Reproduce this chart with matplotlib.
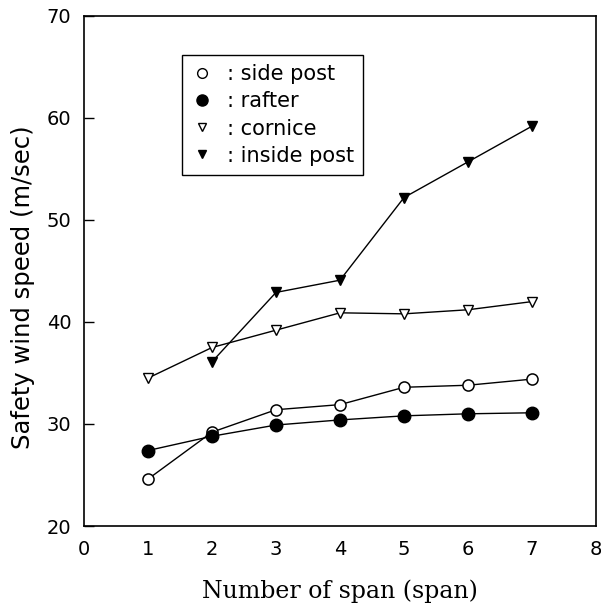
import matplotlib
matplotlib.use("Agg")
import matplotlib.pyplot as plt
from matplotlib.lines import Line2D

spans = [1, 2, 3, 4, 5, 6, 7]
side_post = [24.6, 29.2, 31.4, 31.9, 33.6, 33.8, 34.4]
rafter = [27.4, 28.8, 29.9, 30.4, 30.8, 31.0, 31.1]
cornice = [34.5, 37.5, 39.2, 40.9, 40.8, 41.2, 42.0]
inside_spans = [2, 3, 4, 5, 6, 7]
inside_post = [36.1, 42.9, 44.1, 52.2, 55.7, 59.2]

legend_labels = [": side post", ": rafter", ": cornice", ": inside post"]
xticks = [0, 1, 2, 3, 4, 5, 6, 7, 8]
yticks = [20, 30, 40, 50, 60, 70]

fig = plt.figure(figsize=(6.01, 6.07), dpi=100)
ax = fig.add_axes([84/601, 81/607, 512/601, 510/607])

lw = 1.0
ax.plot(spans, side_post, color="black", lw=lw, marker="o", ms=8,
        mfc="white", mec="black", mew=1.1)
ax.plot(spans, rafter, color="black", lw=lw, marker="o", ms=9,
        mfc="black", mec="black")
ax.plot(spans, cornice, color="black", lw=lw, marker="v", ms=7,
        mfc="white", mec="black", mew=1.0)
ax.plot(inside_spans, inside_post, color="black", lw=lw, marker="v", ms=6.5,
        mfc="black", mec="black")

ax.set_xlim(0, 8)
ax.set_ylim(20, 70)
ax.set_xticks(xticks)
ax.set_yticks(yticks)
ax.tick_params(axis="x", direction="in", length=7, width=1, pad=10, labelsize=14)
ax.tick_params(axis="y", direction="in", length=7, width=1, pad=9, labelsize=14)
for t in ax.xaxis.get_major_ticks():
    if t.get_loc() in (0, 8):
        t.tick1line.set_visible(False)
for t in ax.yaxis.get_major_ticks():
    if t.get_loc() in (20, 70):
        t.tick1line.set_visible(False)
for s in ax.spines.values():
    s.set_linewidth(1.2)

ax.set_xlabel("Number of span (span)", family="DejaVu Serif", fontsize=17)
ax.set_ylabel("Safety wind speed (m/sec)", fontsize=17.5)
ax.xaxis.set_label_coords(0.5, -0.105)
ax.yaxis.set_label_coords(-0.095, 0.468)

handles = [
    Line2D([], [], ls="none", marker="o", ms=7, mfc="white", mec="black", mew=1.0),
    Line2D([], [], ls="none", marker="o", ms=8, mfc="black", mec="black"),
    Line2D([], [], ls="none", marker="v", ms=6, mfc="white", mec="black", mew=1.0),
    Line2D([], [], ls="none", marker="v", ms=6, mfc="black", mec="black"),
]
leg = ax.legend(handles, legend_labels, loc="upper left",
                bbox_to_anchor=(0.191, 0.9235), borderaxespad=0,
                fancybox=False, framealpha=1, edgecolor="black",
                fontsize=15, handlelength=1.0, handletextpad=0.7,
                labelspacing=0.34, borderpad=0.45)
leg.get_frame().set_linewidth(1.0)

fig.savefig("out.png", dpi=100)
